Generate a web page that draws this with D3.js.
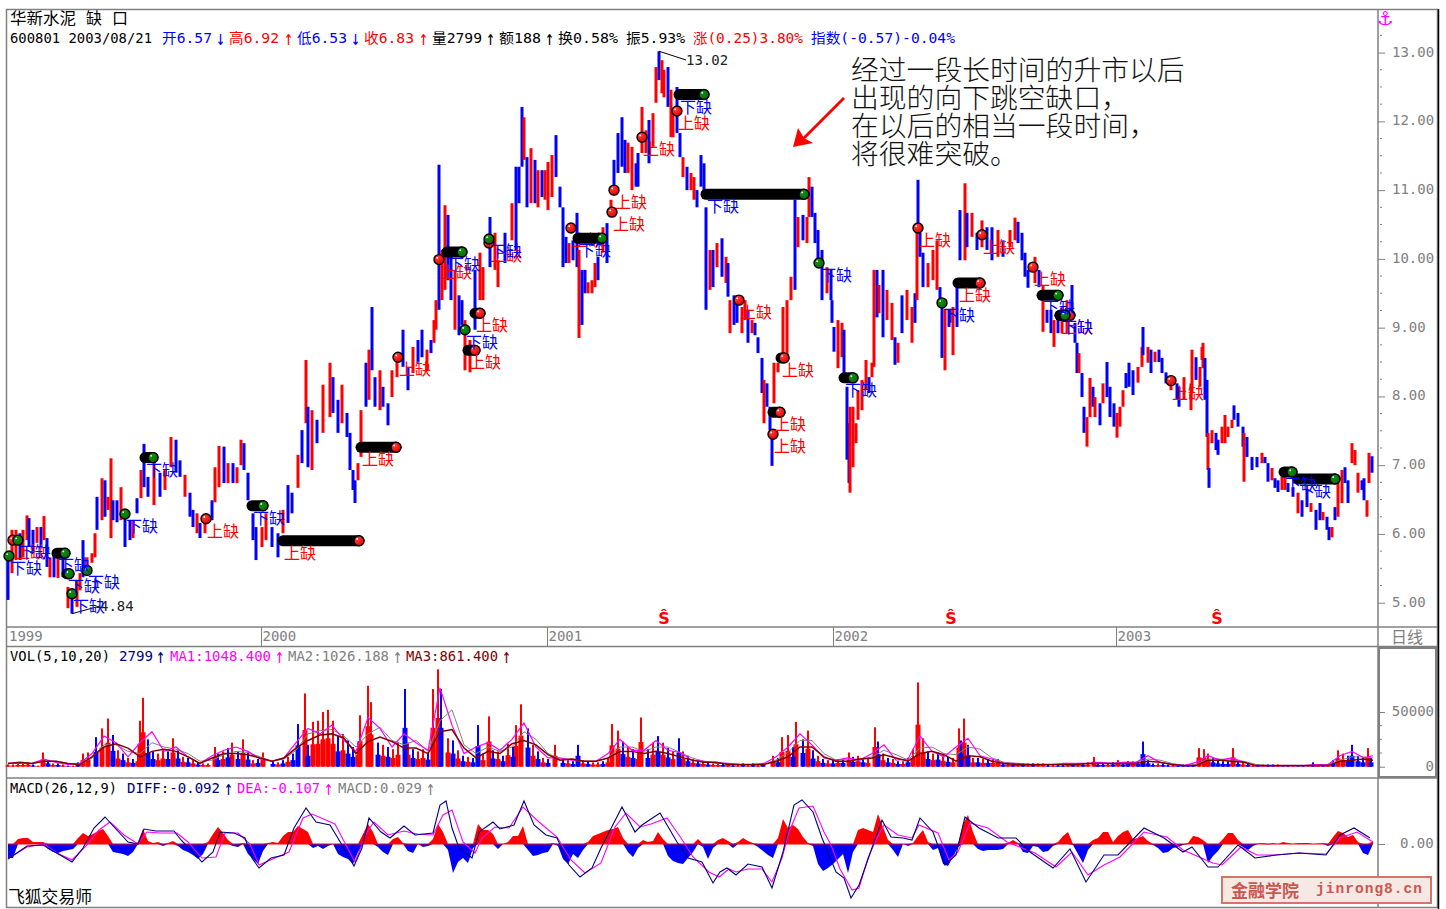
<!DOCTYPE html>
<html lang="zh"><head><meta charset="utf-8">
<script src="https://cdn.jsdelivr.net/npm/d3@7/dist/d3.min.js"></script>
<style>
html,body{margin:0;padding:0;background:#fff}
svg{display:block}
</style></head><body><svg id="c" width="1446" height="909" font-family='"DejaVu Sans Mono","Noto Sans CJK SC",monospace'></svg>
<script>
// ---------- price bars: [session, high, low, rise(1)/fall(0)] ----------
const bars1999 = [[0,5.66,5.04,0],[4,6.06,5.43,1],[8,6.06,5.62,1],[12,6.01,5.62,0],[15,6.06,5.66,1],[19,6.27,5.91,1],[21,6.23,5.81,0],[25,6.06,5.72,0],[29,6.10,5.87,1],[33,6.10,5.80,0],[36,6.26,5.91,1],[39,5.94,5.52,0],[42,5.66,5.37,1],[46,5.72,5.37,0],[50,5.65,5.36,1],[55,5.72,5.37,0],[60,5.23,4.92,1],[64,5.14,4.84,0],[69,5.33,4.94,1],[72,5.43,5.18,1],[75,5.91,5.37,0],[79,5.66,5.43,1],[84,5.72,5.58,1],[87,6.01,5.66,1],[89,6.54,6.06,0],[94,6.81,6.20,1],[97,6.78,6.25,0],[100,6.54,6.35,1],[103,7.10,5.94,1],[105,6.49,6.20,0],[109,6.49,6.17,0],[113,6.68,6.20,1],[117,6.30,5.81,0],[122,6.20,5.91,0],[125,6.20,5.94,1],[129,6.52,6.30,0],[133,6.93,6.52,1],[136,7.31,6.68,0],[140,6.83,6.54,0],[146,7.03,6.42,1],[152,6.89,6.54,0],[157,6.93,6.64,1],[163,7.41,6.97,1],[168,7.37,6.89,0],[172,7.07,6.83,0],[177,6.86,6.54,1],[182,6.60,6.25,0],[185,6.35,6.10,0],[189,6.30,6.01,1],[192,6.16,5.94,0],[197,6.25,6.01,1],[204,6.49,6.20,0],[207,6.97,6.46,1],[211,7.28,6.68,1],[216,7.27,6.74,0],[220,7.03,6.74,1],[225,7.03,6.74,0],[229,6.97,6.74,1],[233,7.37,7.00,1],[236,7.32,6.93,0],[240,6.89,6.49,0],[245,6.30,5.91,0],[248,6.10,5.62,0]];
const bars2000 = [[254,6.10,5.81,1],[258,6.30,5.91,1],[264,6.10,5.81,0],[270,6.01,5.66,0],[275,6.35,6.01,1],[280,6.71,6.16,0],[284,6.60,6.30,0],[290,7.15,6.67,1],[294,7.51,7.03,0],[298,8.53,7.61,1],[300,7.85,6.97,0],[304,7.80,6.93,1],[309,7.66,7.32,0],[315,8.17,7.47,1],[322,8.49,7.70,1],[325,8.28,7.76,0],[330,7.95,7.47,0],[334,8.17,7.61,1],[339,7.76,7.41,0],[342,7.47,6.93,0],[345,6.93,6.64,0],[347,6.78,6.45,0],[350,7.03,6.78,1],[353,7.80,7.12,1],[358,8.49,7.85,0],[361,8.68,7.95,1],[364,9.30,8.38,0],[367,8.28,7.85,0],[372,8.38,7.80,1],[375,8.14,7.85,0],[380,7.90,7.58,0],[384,8.38,7.99,1],[389,8.57,8.28,1],[395,8.97,8.43,0],[400,8.43,8.09,0],[405,8.72,8.34,1],[410,8.82,8.49,0],[414,8.97,8.57,0],[419,8.68,8.38,1],[423,8.82,8.63,0],[426,9.11,8.78,1],[428,9.40,8.97,1],[431,11.37,9.26,0],[434,10.13,9.40,1],[437,10.78,9.55,1],[440,10.64,9.69,0],[443,10.05,9.40,0],[447,9.84,8.97,1],[451,9.47,8.89,0],[454,9.40,9.04,0],[457,9.11,8.38,1],[462,8.82,8.35,1],[467,9.84,8.97,0],[472,10.09,9.40,1],[475,9.88,9.40,1],[482,10.61,9.88,0],[487,10.38,9.84,1],[490,9.98,9.59,1],[497,10.38,9.94,0],[504,10.81,10.27,1],[508,11.34,10.13,0],[511,11.34,10.81,0],[514,12.21,11.34,0],[516,12.06,11.44,1],[519,11.48,10.75,0],[523,11.61,10.81,1],[527,11.44,10.81,0],[530,11.29,10.75,1],[534,11.29,10.90,0],[537,11.29,10.86,1]];
const bars2001 = [[540,11.41,10.71,1],[544,11.51,10.90,1],[548,11.80,11.19,0],[552,11.05,10.75,0],[555,10.75,9.88,0],[558,10.32,9.94,0],[561,10.23,9.94,1],[565,10.27,9.98,0],[569,10.67,9.88,0],[571,10.13,8.85,1],[574,9.84,9.04,0],[577,9.84,9.50,0],[580,9.66,9.50,1],[584,9.69,9.50,1],[587,9.94,9.59,1],[590,10.03,9.69,0],[595,10.46,10.09,1],[599,10.52,9.94,0],[603,10.86,10.61,1],[606,11.44,11.05,0],[610,11.83,11.25,0],[614,12.06,11.34,0],[617,11.73,11.25,0],[620,11.69,11.25,1],[624,11.63,11.00,1],[628,11.39,11.05,0],[630,11.54,11.05,0],[634,12.21,11.54,1],[638,11.87,11.54,1],[641,12.02,11.39,0],[645,12.12,11.63,1],[648,12.79,12.27,1],[651,13.02,12.60,0],[654,12.89,12.41,1],[656,12.75,12.35,1],[660,12.79,12.21,0],[663,12.46,11.77,1],[665,12.12,11.77,1],[669,12.50,11.83,0],[672,11.83,11.48,0],[675,11.48,11.19,1],[679,11.34,11.00,0],[683,11.25,11.00,1],[686,11.19,10.86,1],[689,11.00,10.75,0],[693,11.51,11.05,0],[696,11.39,11.00,0],[698,10.75,9.26,0],[702,10.13,9.55,1],[705,10.13,9.59,0],[709,10.23,9.88,1],[714,10.30,9.74,0],[718,10.03,9.65,1],[720,9.94,9.45,0],[722,9.40,8.92,1],[726,9.47,9.04,0],[729,9.47,9.07,0],[734,9.30,8.92,1],[737,9.40,9.11,1],[740,9.26,8.78,0],[744,9.11,8.92,1],[747,9.07,8.89,0],[750,8.86,8.63,0],[754,8.56,8.05,0],[756,8.24,7.61,1],[759,8.19,7.85,0],[762,7.85,7.51,0],[764,7.41,6.99,0],[766,8.49,7.90,1],[770,8.49,8.35,1],[775,9.30,8.53,1],[779,9.40,8.60,1],[783,9.74,9.40,1],[787,10.86,9.55,0],[790,10.61,10.17,1],[795,10.64,10.27,0],[799,10.61,10.23,1],[801,11.19,10.61,1],[804,11.05,10.61,0],[807,10.67,10.23,0],[810,10.42,9.94,0],[814,10.13,9.40,0],[819,9.88,9.50,1],[823,9.84,9.40,0]];
const bars2002 = [[824,9.40,9.07,0],[826,9.01,8.65,0],[830,9.11,8.41,1],[834,9.07,8.57,1],[836,8.97,8.24,0],[839,8.14,7.08,0],[841,7.61,6.74,0],[842,7.85,6.60,1],[845,7.85,6.97,1],[848,7.61,7.32,1],[850,8.09,7.66,1],[854,8.24,7.80,1],[858,8.53,8.09,1],[861,8.28,8.05,0],[864,8.49,8.28,1],[866,9.84,8.43,1],[869,9.84,9.15,0],[871,9.62,9.21,1],[875,9.84,8.86,0],[879,9.55,9.11,1],[884,9.36,8.82,1],[887,8.86,8.46,0],[890,8.78,8.49,1],[894,9.47,8.92,0],[899,9.55,9.11,1],[904,9.30,8.78,1],[907,9.50,9.07,0],[909,10.42,9.40,1],[910,11.15,10.38,0],[912,10.38,10.03,0],[915,10.09,9.59,0],[920,9.94,9.59,1],[925,10.13,9.69,1],[929,10.27,9.55,1],[932,9.59,9.30,0],[934,9.30,8.56,0],[937,9.26,8.38,1],[941,9.26,9.01,0],[945,9.30,8.60,1],[949,9.59,9.01,0],[952,10.71,9.98,0],[957,11.10,9.98,1],[959,10.67,10.17,0],[964,10.67,10.32,1],[969,10.38,10.13,0],[974,10.56,10.17,1],[979,10.46,10.13,0],[984,10.46,9.98,0],[990,10.42,10.03,1],[995,10.27,10.03,0],[1002,10.42,10.17,1],[1007,10.60,10.27,1],[1010,10.54,10.23,0],[1014,10.38,9.98,0],[1017,10.09,9.74,0],[1020,9.84,9.58,0],[1027,10.03,9.65,1],[1031,9.84,9.59,0],[1035,9.62,8.94,1],[1039,9.26,9.07,0],[1043,9.26,8.92,0],[1046,9.11,8.72,1],[1050,9.15,8.92,0],[1054,9.30,8.92,1],[1059,9.40,8.92,1],[1064,9.62,9.11,0],[1067,9.07,8.78,0],[1069,8.78,8.34,0],[1071,8.63,8.34,1],[1074,8.34,7.99,0],[1076,7.85,7.47,0],[1079,7.70,7.27,1],[1082,8.27,7.70,1],[1085,8.14,7.85,0],[1087,7.99,7.70,1],[1092,7.90,7.58,0],[1095,8.19,7.90,1],[1099,8.50,7.99,0],[1102,8.14,7.70,0],[1106,7.90,7.56,0]];
const bars2003 = [[1109,7.76,7.40,1],[1112,7.85,7.56,1],[1115,8.09,7.85,1],[1118,8.34,8.12,0],[1121,8.49,8.14,0],[1125,8.38,8.02,0],[1130,8.43,8.20,1],[1134,8.72,8.43,1],[1135,9.01,8.60,0],[1140,8.72,8.49,1],[1143,8.68,8.34,0],[1147,8.65,8.50,1],[1151,8.68,8.50,0],[1154,8.56,8.34,0],[1158,8.35,8.19,0],[1163,8.28,8.09,1],[1169,8.19,7.95,0],[1171,8.14,7.85,0],[1176,8.28,7.95,1],[1183,8.19,7.80,1],[1184,8.68,8.05,1],[1188,8.57,8.24,0],[1192,8.43,8.14,1],[1194,8.72,8.53,1],[1195,8.78,8.41,1],[1197,8.56,7.95,0],[1199,8.24,7.41,0],[1200,7.47,6.93,1],[1201,6.96,6.67,0],[1204,7.51,7.32,1],[1208,7.47,7.22,0],[1210,7.37,7.15,0],[1214,7.56,7.32,1],[1217,7.73,7.32,1],[1220,7.56,7.41,1],[1224,7.66,7.54,1],[1226,7.87,7.66,0],[1230,7.76,7.56,0],[1235,7.56,7.27,0],[1236,7.47,6.76,1],[1239,7.41,7.12,0],[1244,7.12,6.93,0],[1249,7.12,6.97,0],[1254,7.18,7.03,1],[1257,7.12,7.03,0],[1260,7.03,6.76,0],[1264,6.96,6.78,1],[1267,6.81,6.67,0],[1270,6.78,6.61,0],[1274,6.83,6.64,1],[1277,6.83,6.64,1],[1280,6.74,6.61,0],[1285,6.68,6.54,0],[1290,6.60,6.30,1],[1294,6.49,6.25,0],[1299,6.64,6.39,0],[1303,6.45,6.32,1],[1308,6.35,6.06,0],[1312,6.45,6.20,0],[1315,6.32,6.20,1],[1319,6.25,6.06,0],[1321,6.10,5.91,0],[1324,6.10,5.95,1],[1327,6.39,6.20,0],[1330,6.78,6.25,1],[1334,6.93,6.45,1],[1337,6.97,6.74,0],[1340,6.78,6.45,0],[1344,7.32,7.03,1],[1347,7.22,7.00,1],[1350,6.89,6.60,1],[1354,6.78,6.64,0],[1356,6.81,6.49,0],[1359,6.49,6.25,1],[1361,7.18,6.74,1],[1364,7.13,6.89,0]];

// ---------- gaps: [fromSession, toSession, price] ----------
const upGaps = [[5,5,5.91],[198,198,6.22],[275,351,5.90],[353,388,7.26],[390,390,8.57],[460,467,8.67],[467,472,9.21],[431,431,9.99],[481,481,10.23],[563,563,10.45],[606,606,11.00],[604,604,10.68],[634,634,11.77],[669,669,12.15],[910,910,10.45],[950,972,9.65],[974,974,10.35],[1025,1025,9.88],[1052,1062,9.18],[1163,1163,8.23],[765,772,7.77],[765,765,7.45],[773,776,8.56],[731,731,9.40]];
const downGaps = [[1,1,5.68],[10,10,5.91],[49,57,5.72],[59,61,5.42],[79,79,5.47],[64,64,5.13],[137,145,7.11],[117,117,6.29],[244,255,6.41],[457,457,8.97],[439,454,10.10],[481,481,10.29],[570,594,10.30],[671,696,12.39],[698,796,10.94],[811,811,9.94],[934,934,9.36],[1034,1050,9.47],[1052,1057,9.18],[1276,1284,6.90],[1290,1327,6.80],[836,845,8.27]];
const extremes = [[651,13.02,"13.02"],[64,4.84,"4.84"]];
const sMarks = [656,943,1209];

// ---------- volume (thousands): [session, volume] ----------
const volRise = [[0,2],[5,2],[10,3],[15,3],[20,4],[30,1],[35,13],[45,3],[55,2],[65,1],[75,12],[80,13],[94,35],[100,44],[110,15],[120,8],[130,10],[132,42],[135,63],[150,12],[155,15],[165,26],[175,9],[185,6],[195,3],[200,3],[207,18],[215,14],[224,22],[235,25],[245,6],[255,13],[270,4],[280,9],[297,67],[305,41],[310,42],[315,50],[320,52],[325,42],[335,30],[350,22],[352,47],[360,74],[363,59],[375,20],[385,16],[390,22],[400,22],[410,14],[415,16],[425,71],[430,89],[440,26],[450,15],[460,9],[475,12],[481,46],[490,14],[500,21],[508,38],[513,57],[525,20],[535,8],[547,20],[560,6],[575,6],[585,4],[590,4],[600,8],[604,39],[610,33],[620,18],[630,14],[633,45],[645,22],[655,22],[665,14],[675,14],[685,7],[695,5],[705,3],[710,3],[720,3],[730,2],[740,2],[750,2],[765,10],[774,27],[780,29],[788,41],[800,33],[810,10],[820,6],[830,7],[841,13],[850,10],[860,7],[867,36],[875,12],[885,7],[895,5],[905,16],[910,77],[915,26],[925,12],[935,11],[945,8],[951,35],[956,44],[965,8],[975,7],[985,7],[990,7],[1000,4],[1010,3],[1020,3],[1030,3],[1035,3],[1045,2],[1060,3],[1070,3],[1080,4],[1086,9],[1100,3],[1110,6],[1125,5],[1135,3],[1150,3],[1165,2],[1191,17],[1196,16],[1200,12],[1225,17],[1235,4],[1245,2],[1255,2],[1270,2],[1285,1],[1300,1],[1310,2],[1320,2],[1330,15],[1335,12],[1360,17]];
const volFall = [[25,2],[40,6],[50,3],[60,1],[70,4],[88,27],[105,29],[115,12],[125,7],[140,25],[145,14],[160,14],[170,15],[180,8],[190,4],[210,12],[220,17],[230,14],[240,13],[250,7],[265,5],[275,6],[285,12],[290,39],[300,20],[330,28],[340,24],[345,18],[370,22],[380,18],[397,71],[405,16],[420,13],[433,71],[445,24],[455,10],[465,8],[470,38],[485,15],[495,10],[505,18],[520,35],[530,14],[540,7],[555,7],[565,5],[570,20],[580,5],[595,5],[615,23],[625,16],[640,16],[650,28],[660,17],[671,26],[680,10],[690,6],[700,4],[715,3],[725,2],[735,3],[745,3],[755,3],[770,8],[785,18],[795,25],[805,15],[815,7],[825,6],[835,7],[845,9],[855,8],[870,23],[880,8],[890,5],[900,8],[920,14],[930,13],[940,9],[953,24],[960,20],[970,8],[980,7],[995,4],[1005,3],[1015,3],[1025,3],[1040,2],[1050,2],[1055,2],[1065,3],[1075,3],[1090,3],[1095,3],[1105,4],[1115,4],[1120,5],[1130,5],[1135,23],[1140,6],[1145,3],[1155,3],[1160,2],[1170,2],[1175,2],[1180,2],[1185,2],[1205,8],[1210,6],[1215,5],[1220,5],[1230,5],[1240,3],[1250,2],[1260,2],[1265,2],[1275,1],[1280,1],[1290,1],[1295,1],[1305,4],[1315,1],[1325,6],[1340,10],[1344,20],[1350,10],[1355,8],[1363,8]];
const volMa1 = [3,3,3,7,4,2,3,12,28,22,9,22,32,14,18,9,3,10,15,18,14,7,5,8,22,35,30,38,24,14,45,35,18,30,22,15,72,38,12,18,22,15,25,40,18,8,8,6,5,5,12,25,15,15,24,15,13,6,5,3,3,2,2,3,9,18,30,20,8,6,8,6,12,20,6,7,28,14,9,18,26,10,7,3,3,2,2,2,3,3,3,4,3,4,4,10,4,2,1,4,10,6,8,4,1,1,1,1,1,2,2,10,14,8,10];
const volMa2 = [3,3,3,5,5,3,2,8,20,20,14,12,22,18,16,12,5,6,11,14,13,9,5,7,15,30,33,34,28,18,30,36,24,20,24,14,42,52,20,12,18,14,18,32,25,12,7,7,5,5,8,18,18,14,18,18,13,8,5,4,3,2,2,2,6,13,24,24,12,6,7,6,9,15,11,6,17,18,12,11,18,16,8,4,3,2,2,2,2,3,3,3,3,4,4,7,6,3,1,2,7,7,6,5,2,1,1,1,1,1,2,6,9,9,8];
const volMa3 = [3,4,3,5,5,3,2,9,18,21,17,9,14,16,14,9,3,8,12,12,11,8,5,8,17,24,29,30,26,12,23,27,23,17,17,12,32,34,17,8,14,12,21,24,20,11,6,7,5,5,8,14,14,12,14,12,9,6,4,4,2,2,2,2,5,9,18,18,9,5,5,7,8,11,8,5,12,14,11,5,10,9,5,3,2,2,2,2,2,2,3,3,3,3,3,5,4,2,1,1,6,6,5,4,1,1,1,1,1,1,1,5,6,7,6];

// ---------- MACD ----------
const macdHist = [-0.28,-0.28,0.10,0.12,0.12,0.04,0.04,0.04,-0.10,-0.16,-0.18,-0.14,-0.12,-0.10,0.12,0.22,0.16,0.20,0.26,0.30,0.16,-0.16,-0.18,-0.20,-0.24,-0.16,0.04,0.30,0.06,0.02,0.04,-0.04,0.02,0.06,-0.04,-0.12,-0.16,-0.22,-0.30,-0.20,0.04,0.20,0.34,0.22,0.08,-0.04,-0.06,0.02,-0.20,-0.30,-0.40,-0.14,0.02,0.04,0.02,0.16,0.24,0.24,0.36,0.30,0.24,-0.08,-0.04,-0.10,-0.04,0,-0.20,-0.26,-0.30,-0.40,-0.16,0.20,0.40,0.24,-0.06,-0.16,-0.22,0.10,0.14,0.02,-0.14,-0.18,0,-0.06,-0.04,0.10,0.40,0.24,-0.12,-0.58,-0.36,-0.28,-0.38,-0.08,0.40,0.28,0.28,0.20,-0.10,0,0.04,0.16,0.16,0.36,-0.12,-0.24,-0.22,-0.18,-0.16,0.02,-0.04,-0.30,-0.40,-0.20,-0.28,-0.12,0.04,0.16,0.20,0.24,0.28,0.30,0.34,0.12,-0.16,-0.26,-0.08,0.08,0.04,0.06,0.24,0.10,-0.24,-0.34,-0.38,-0.40,-0.28,-0.16,0.10,-0.06,-0.30,-0.08,0.08,0.12,0.06,-0.08,0.04,0.12,0.06,0.02,-0.06,-0.14,-0.22,-0.28,0.12,0.50,0.32,0.38,0.30,0.14,0.02,-0.04,-0.40,-0.54,-0.48,-0.40,-0.30,-0.20,-0.58,-0.16,0.28,0.32,0.28,0.24,0.60,0.34,0.08,-0.12,-0.26,0,-0.04,0.02,0.16,0.28,0.04,-0.12,-0.08,-0.40,-0.44,-0.26,-0.06,0.40,0.58,0.24,-0.10,-0.14,-0.12,-0.12,-0.12,-0.10,0.02,0.08,0.02,-0.16,-0.18,-0.04,-0.06,-0.16,-0.14,-0.04,0.04,0.16,0.24,-0.02,-0.20,-0.38,-0.12,0.08,0.12,0.24,0.24,0.04,0.16,0.24,0.28,0.10,0.12,0.16,0.06,-0.02,-0.08,-0.18,-0.16,-0.08,-0.06,-0.02,0.02,0.16,0.14,0.08,-0.38,-0.24,-0.14,0.10,0.22,0.22,0.08,-0.06,-0.12,-0.04,0.01,0.02,-0.01,0.02,0,0.04,0.02,0,0.02,0.02,0.02,0,0.01,0.02,-0.04,0.14,0.26,0.22,0.14,0.18,0.04,-0.18,-0.22,0.06];
const diffLine = [[0,-0.30],[19,-0.04],[35,-0.02],[47,-0.16],[64,-0.36],[75,-0.08],[86,0.32],[97,0.54],[107,0.32],[120,0.04],[130,0],[136,0.30],[148,0.26],[166,0.26],[173,0.08],[185,-0.16],[194,-0.36],[205,-0.16],[212,0.24],[226,0.22],[237,0.12],[244,-0.28],[251,-0.48],[263,-0.28],[276,-0.22],[286,0.32],[298,0.72],[308,0.44],[322,0.38],[334,-0.02],[346,-0.44],[354,-0.08],[361,0.52],[373,0.24],[382,0.12],[396,0.36],[407,0.18],[425,0.22],[432,0.78],[438,0.86],[444,0.32],[451,-0.08],[464,-0.28],[471,0.24],[485,0.44],[492,0.30],[506,0.38],[516,0.86],[526,0.38],[538,0.18],[549,0.12],[561,-0.42],[572,-0.66],[584,-0.48],[593,-0.08],[614,0.74],[627,0.24],[634,0.38],[652,0.62],[669,0.04],[680,-0.28],[694,-0.36],[705,-0.78],[712,-0.56],[719,-0.48],[728,-0.62],[740,-0.40],[754,-0.46],[764,-0.88],[775,-0.16],[786,0.78],[794,0.88],[805,0.64],[814,0.12],[828,-0.56],[836,-0.68],[843,-1.08],[851,-0.82],[865,-0.02],[874,0.48],[883,0.14],[895,0.12],[904,0.08],[912,0.52],[925,0.24],[937,-0.42],[948,-0.22],[957,0.54],[971,0.32],[990,0.12],[1008,0.12],[1022,-0.16],[1045,-0.48],[1062,-0.10],[1078,-0.76],[1096,-0.22],[1110,-0.22],[1136,0.32],[1156,0.12],[1175,-0.16],[1184,-0.06],[1200,-0.46],[1210,-0.46],[1230,-0.02],[1247,-0.28],[1268,-0.22],[1291,-0.18],[1318,-0.22],[1332,0.18],[1346,0.32],[1362,0.12]];
const deaLine = [[1,-0.28],[19,-0.06],[36,0],[49,-0.18],[64,-0.32],[79,-0.02],[91,0.28],[102,0.44],[116,0.18],[130,0],[139,0.24],[152,0.22],[169,0.22],[180,0.04],[194,-0.28],[208,-0.26],[217,0.22],[230,0.22],[242,0],[251,-0.42],[267,-0.28],[281,-0.16],[295,0.52],[304,0.60],[327,0.40],[338,-0.02],[347,-0.36],[359,0.24],[366,0.44],[380,0.18],[396,0.26],[409,0.20],[425,0.18],[435,0.58],[444,0.68],[455,0.04],[467,-0.18],[474,0.12],[487,0.34],[501,0.32],[515,0.74],[531,0.44],[549,0.14],[563,-0.32],[577,-0.58],[593,-0.38],[607,0.34],[618,0.62],[632,0.34],[643,0.40],[659,0.52],[673,0.12],[685,-0.26],[701,-0.56],[711,-0.66],[721,-0.50],[728,-0.56],[740,-0.50],[754,-0.50],[764,-0.76],[774,-0.28],[781,0.24],[791,0.72],[805,0.76],[816,0.24],[823,-0.02],[832,-0.50],[844,-0.92],[851,-0.88],[860,-0.28],[867,0.04],[876,0.38],[890,0.18],[904,0.12],[911,0.38],[930,0.22],[941,-0.32],[950,-0.16],[962,0.42],[980,0.32],[999,0.04],[1027,-0.18],[1048,-0.46],[1064,-0.16],[1080,-0.62],[1096,-0.42],[1112,-0.26],[1136,0.24],[1159,0.14],[1175,-0.12],[1205,-0.38],[1214,-0.42],[1233,-0.06],[1249,-0.22],[1268,-0.22],[1291,-0.18],[1318,-0.20],[1332,0.12],[1349,0.24],[1365,0.04]];

// ---------- ticks & texts ----------
const priceTicks = [5,6,7,8,9,10,11,12,13];
const volTicks = [0,50];
const macdTicks = [0];
const yearSessions = [253,539,825,1108];
const yearLabels = ["2000","2001","2002","2003"];
const annotationLines = ["经过一段长时间的升市以后","出现的向下跳空缺口，","在以后的相当一段时间，","将很难突破。"];
const headerLine = [["600801 2003/08/21","#000"],["开6.57","#00f"],["↓","#00f"],["高6.92","#f00"],["↑","#f00"],["低6.53","#00f"],["↓","#00f"],["收6.83","#f00"],["↑","#f00"],["量2799","#000"],["↑","#000"],["额188","#000"],["↑","#000"],["换0.58%","#000"],["振5.93%","#000"],["涨(0.25)3.80%","#f00"],["指数(-0.57)-0.04%","#00f"]];
const volLine = [["VOL(5,10,20)","#000"],["2799","#000080"],["↑","#000080"],["MA1:1048.400","#f0f"],["↑","#f0f"],["MA2:1026.188","#808080"],["↑","#808080"],["MA3:861.400","#800000"],["↑","#800000"]];
const macdLine = [["MACD(26,12,9)","#000"],["DIFF:-0.092","#000080"],["↑","#000080"],["DEA:-0.107","#f0f"],["↑","#f0f"],["MACD:0.029","#808080"],["↑","#808080"]];

// ---------- layout (not data) ----------
const GRAY="#808080",RED="#ff0000",BLUE="#0000ff";
const headerX=[[10,142],[162,50],[216,9],[229,50],[284,9],[297,50],[351,9],[364,50],[419,9],[432,50],[486,9],[499,42],[545,9],[558,60],[626,59],[693,110],[811,144]];
const volX=[[10,100],[119,34],[156,9],[170,101],[275,9],[288,101],[393,9],[406,92],[502,9]];
const macdX=[[10,107],[127,93],[224,9],[237,83],[324,9],[338,84],[426,9]];

const svg=d3.select("#c");
const x=d3.scaleLinear().domain([0,1365]).range([8,1373]);
const yP=d3.scaleLinear().domain([5,13]).range([602.7,52.6]);
const yV=d3.scaleLinear().domain([0,50]).range([766.7,712]);
const yM=d3.scaleLinear().domain([-1,1]).range([894,794]);
const bars=[...bars1999,...bars2000,...bars2001,...bars2002,...bars2003];

// frame
const frame=svg.append("g").attr("fill","none").attr("stroke",GRAY);
frame.append("rect").attr("x",6.5).attr("y",9.5).attr("width",1431).attr("height",898).attr("stroke-width",1.5);
[627,646.5,778].forEach(v=>frame.append("line").attr("x1",6).attr("x2",1437).attr("y1",v).attr("y2",v).attr("stroke-width",1.5));
frame.append("line").attr("x1",1378).attr("x2",1378).attr("y1",10).attr("y2",908).attr("stroke-width",1.5);
frame.append("rect").attr("x",1379).attr("y",648).attr("width",57).attr("height",129).attr("stroke-width",2);
svg.append("line").attr("x1",1438.5).attr("x2",1438.5).attr("y1",9).attr("y2",909).attr("stroke","#000").attr("stroke-width",1.5);

// text helper
function fitted(row,pos,y,size){
  const g=svg.append("g");
  row.forEach((r,i)=>{
    const arrow=r[0]==="↑"||r[0]==="↓";
    g.append("text").attr("x",pos[i][0]).attr("y",y).attr("fill",r[1]).attr("font-size",arrow?size*1.45:size)
      .attr("dominant-baseline","central").attr("textLength",pos[i][1]).attr("lengthAdjust","spacingAndGlyphs").text(r[0]);
  });
}
[["华新水泥",10,66],["缺",86,16],["口",112,16]].forEach(t=>svg.append("text").attr("x",t[1]).attr("y",18).attr("font-size",16).attr("dominant-baseline","central").attr("textLength",t[2]).attr("lengthAdjust","spacingAndGlyphs").attr("fill","#000").text(t[0]));
fitted(headerLine,headerX,38,14);
fitted(volLine,volX,656,14);
fitted(macdLine,macdX,788,14);
svg.append("text").attr("x",8).attr("y",897).attr("font-size",16.5).attr("dominant-baseline","central").attr("textLength",84).attr("lengthAdjust","spacingAndGlyphs").text("飞狐交易师");

// axes
function rightAxis(scale,vals,fmt,minor){
  const g=svg.append("g").attr("transform","translate(1378,0)").call(d3.axisRight(scale).tickValues(vals).tickFormat(fmt).tickSize(7).tickPadding(7));
  g.select(".domain").remove();
  g.selectAll(".tick line").attr("stroke",GRAY);
  g.selectAll(".tick text").attr("fill",GRAY).attr("font-size",14).style("font-family","DejaVu Sans Mono").attr("y",-1);
  g.selectAll("line.minor").data(minor).enter().append("line").attr("class","minor").attr("x1",2).attr("x2",4)
    .attr("y1",d=>scale(d)).attr("y2",d=>scale(d)).attr("stroke",GRAY);
  return g;
}
rightAxis(yP,priceTicks,d3.format(".2f"),d3.range(5.25,13.5,0.25).filter(v=>v%1!==0));
const gVolAx=rightAxis(yV,volTicks,d=>String(d*1000),[12.5,25,37.5]);
gVolAx.selectAll(".tick text").attr("text-anchor","end").attr("x",56);
rightAxis(yM,macdTicks,d3.format(".2f"),[]).selectAll(".tick text").attr("x",22);

// year strip
const yearAx=svg.append("g").attr("transform","translate(0,627)").call(d3.axisBottom(x).tickValues(yearSessions).tickFormat((d,i)=>yearLabels[i]).tickSize(19).tickPadding(0));
yearAx.select(".domain").remove();
yearAx.selectAll(".tick line").attr("stroke",GRAY);
yearAx.selectAll(".tick text").attr("fill",GRAY).attr("font-size",14).style("font-family","DejaVu Sans Mono").attr("text-anchor","start").attr("x",1).attr("y",9).attr("dominant-baseline","central").attr("dy",0);
svg.append("text").attr("x",9).attr("y",636).attr("fill",GRAY).attr("font-size",14).attr("dominant-baseline","central").text("1999");
svg.append("text").attr("x",1391).attr("y",637).attr("fill",GRAY).attr("font-size",16).attr("dominant-baseline","central").text("日线");

// price bars
svg.append("g").selectAll("line").data(bars).enter().append("line")
  .attr("x1",d=>x(d[0])).attr("x2",d=>x(d[0])).attr("y1",d=>yP(d[1])).attr("y2",d=>yP(d[2]))
  .attr("stroke",d=>d[3]?RED:BLUE).attr("stroke-width",3);

// extremes
extremes.forEach((e,i)=>{
  const px=x(e[0]),py=yP(e[1]),lx=i===0?686:100,ly=i===0?60:606;
  svg.append("line").attr("x1",px).attr("y1",py).attr("x2",lx).attr("y2",ly).attr("stroke","#000");
  svg.append("text").attr("x",lx).attr("y",ly).attr("font-size",14).attr("dominant-baseline","central").attr("fill","#222").text(e[2]);
});

// gaps
const defs=svg.append("defs");
[["ballR","#ff4040","#f00000"],["ballG","#129012","#067006"]].forEach(b=>{
  const g=defs.append("radialGradient").attr("id",b[0]).attr("cx","35%").attr("cy","30%").attr("r","70%");
  g.append("stop").attr("offset","0").attr("stop-color",b[1]);
  g.append("stop").attr("offset","1").attr("stop-color",b[2]);
});
function drawGaps(list,ball,color,label){
  const g=svg.append("g");
  g.selectAll("line").data(list.filter(d=>d[1]>d[0])).enter().append("line")
    .attr("x1",d=>x(d[0])).attr("x2",d=>x(d[1])).attr("y1",d=>yP(d[2])).attr("y2",d=>yP(d[2]))
    .attr("stroke","#000").attr("stroke-width",11).attr("stroke-linecap","round");
  g.selectAll("circle.b").data(list).enter().append("circle").attr("class","b")
    .attr("cx",d=>x(d[1])).attr("cy",d=>yP(d[2])).attr("r",5)
    .attr("fill",`url(#${ball})`).attr("stroke","#000").attr("stroke-width",1.4);
  g.selectAll("circle.h").data(list).enter().append("circle").attr("class","h")
    .attr("cx",d=>x(d[1])-1.8).attr("cy",d=>yP(d[2])-1.8).attr("r",0.9).attr("fill","#fff");
  g.selectAll("text").data(list).enter().append("text")
    .attr("x",d=>x(d[0])+17).attr("y",d=>yP(d[2])+12.5).attr("text-anchor","middle").attr("dominant-baseline","central")
    .attr("font-size",16).attr("fill",color).text(label);
}
drawGaps(upGaps,"ballR",RED,"上缺");
drawGaps(downGaps,"ballG",BLUE,"下缺");

// S marks & anchor
svg.append("g").selectAll("text").data(sMarks).enter().append("text").attr("x",d=>x(d)).attr("y",618)
  .attr("text-anchor","middle").attr("dominant-baseline","central").attr("font-size",16).attr("font-weight","bold").style("font-family","DejaVu Sans").attr("fill",RED).text("Ŝ");
svg.append("text").attr("x",1385).attr("y",18).attr("text-anchor","middle").attr("dominant-baseline","central").attr("font-size",19).attr("font-weight","bold").style("font-family","DejaVu Sans").attr("fill","#f0f").text("⚓");

// annotation
svg.append("g").selectAll("text").data(annotationLines).enter().append("text")
  .attr("x",851).attr("y",(d,i)=>68+i*28).attr("dominant-baseline","central").attr("font-size",27.8)
  .style("font-family","Noto Sans CJK SC").attr("font-weight",300).attr("fill","#111").text(d=>d);
svg.append("path").attr("d","M844,98L802,140").attr("stroke",RED).attr("stroke-width",2.8);
svg.append("path").attr("d","M793,147L798,128L804,138L813,143Z").attr("fill",RED);

// volume: thin full-height spike plus wider base so the lower part reads as a filled mass
function volBars(list,color){
  const g=svg.append("g");
  g.selectAll("rect.s").data(list).enter().append("rect").attr("class","s")
    .attr("x",d=>x(d[0])-1).attr("width",2).attr("y",d=>yV(d[1])).attr("height",d=>yV(0)-yV(d[1])).attr("fill",color);
  g.selectAll("rect.b").data(list).enter().append("rect").attr("class","b")
    .attr("x",d=>x(d[0])-2.5).attr("width",5).attr("y",d=>yV(d[1]*0.5)).attr("height",d=>yV(0)-yV(d[1]*0.5)).attr("fill",color);
}
volBars(volRise,RED); volBars(volFall,BLUE);
[[volMa2,GRAY,1],[volMa1,"#f0f",1.2],[volMa3,"#800000",1.5]].forEach(m=>{
  svg.append("path").datum(m[0]).attr("fill","none").attr("stroke",m[1]).attr("stroke-width",m[2])
    .attr("d",d3.line().x((d,i)=>x(Math.min(i*12,1365))).y(d=>yV(d)));
});

// macd histogram as filled red / blue areas on each side of zero
const histArea=clip=>d3.area().x((d,i)=>x(i*5)).y0(yM(0)).y1(d=>yM(clip(d)));
svg.append("path").datum(macdHist).attr("fill",BLUE).attr("d",histArea(v=>Math.min(v,0)));
svg.append("path").datum(macdHist).attr("fill",RED).attr("d",histArea(v=>Math.max(v,0)));
svg.append("line").attr("x1",8).attr("x2",1373).attr("y1",yM(0)).attr("y2",yM(0)).attr("stroke",RED);
[[deaLine,"#f0f"],[diffLine,"#000080"]].forEach(m=>{
  svg.append("path").datum(m[0]).attr("fill","none").attr("stroke",m[1]).attr("stroke-width",1.1)
    .attr("d",d3.line().x(d=>x(d[0])).y(d=>yM(d[1])));
});

// watermark
svg.append("rect").attr("x",1222).attr("y",877).attr("width",209).attr("height",26).attr("fill","#f6e8e2").attr("stroke","#d9736a").attr("stroke-width",2);
svg.append("text").attr("x",1231).attr("y",889).attr("font-size",17).attr("font-weight","bold").style("font-family","Noto Sans CJK SC").attr("dominant-baseline","central").attr("fill","#c9574f").text("金融学院");
svg.append("text").attr("x",1316).attr("y",889).attr("font-size",14.5).attr("font-weight","bold").style("font-family","Liberation Mono").attr("dominant-baseline","central").attr("textLength",106).attr("fill","#c9574f").text("jinrong8.cn");
</script></body></html>
